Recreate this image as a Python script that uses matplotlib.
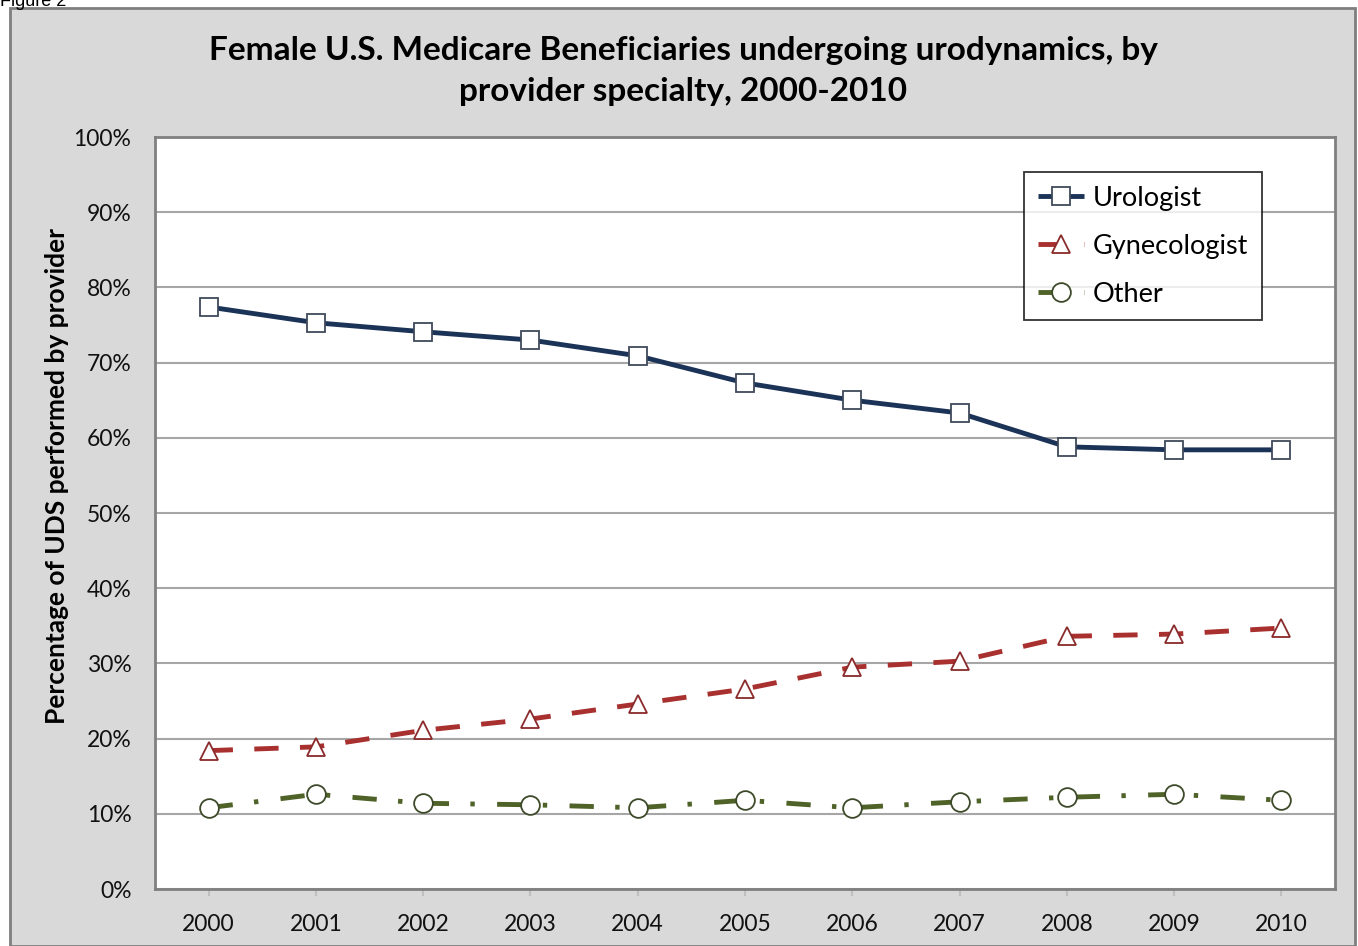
import matplotlib
matplotlib.use("Agg")
import matplotlib.pyplot as plt
from matplotlib.patches import Rectangle
from matplotlib.ticker import FuncFormatter

plt.rcParams['font.family'] = ['Lato', 'DejaVu Sans']

years = [2000, 2001, 2002, 2003, 2004, 2005, 2006, 2007, 2008, 2009, 2010]
urologist = [77.4, 75.3, 74.1, 73.0, 70.9, 67.3, 65.0, 63.3, 58.8, 58.4, 58.4]
gynecologist = [18.4, 18.9, 21.1, 22.6, 24.6, 26.6, 29.5, 30.3, 33.6, 33.9, 34.7]
other = [10.8, 12.6, 11.4, 11.2, 10.8, 11.8, 10.8, 11.6, 12.2, 12.6, 11.8]
yticks = [0, 10, 20, 30, 40, 50, 60, 70, 80, 90, 100]

fig = plt.figure(figsize=(13.58, 9.46), dpi=100)
fig.patch.set_facecolor('white')

# outer chart frame
fig.patches.append(Rectangle((10/1358, 0), 1345/1358, 1 - 8/946, transform=fig.transFigure,
                             facecolor='#d9d9d9', edgecolor='#7f7f7f', linewidth=2.0, zorder=-10))
fig.text(0.0, 1 - 1/946, 'Figure 2', fontsize=13, ha='left', va='center',
         family=['Liberation Sans', 'DejaVu Sans'])

ax = fig.add_axes([155/1358, 1 - 889/946, 1180/1358, 752/946])
ax.set_facecolor('white')
x = list(range(len(years)))

ax.plot(x, urologist, color='#1c3358', lw=3.5, marker='s', markersize=13.5,
        markerfacecolor='white', markeredgecolor='#404a5a', markeredgewidth=1.3,
        label='Urologist', zorder=5, solid_capstyle='butt')
ax.plot(x, gynecologist, color='#a8302e', lw=3.5, linestyle=(0, (5.0, 4.4)),
        marker='^', markersize=13, markerfacecolor='white', markeredgecolor='#8a2a2a',
        markeredgewidth=1.3, label='Gynecologist', zorder=5)
ax.plot(x, other, color='#4f6228', lw=3.5, linestyle=(0, (5.0, 4.4, 0.9, 4.6)),
        marker='o', markersize=13.5, markerfacecolor='white', markeredgecolor='#3d4a2a',
        markeredgewidth=1.3, label='Other', zorder=5)

ax.set_xlim(-0.5, len(years) - 0.5)
ax.set_ylim(0, 100)
ax.set_yticks(yticks)
ax.yaxis.set_major_formatter(FuncFormatter(lambda v, p: f'{int(v)}%'))
ax.set_xticks(x)
ax.set_xticklabels([str(y) for y in years])
ax.grid(axis='y', color='#a6a6a6', linewidth=1.5)
ax.set_axisbelow(True)
ax.tick_params(axis='y', length=0, labelsize=16.5, pad=17, labelcolor='#111111')
ax.tick_params(axis='x', length=5, color='#bfbfbf', width=1.5, labelsize=16.5, pad=13,
               labelcolor='#111111')
for s in ax.spines.values():
    s.set_color('#808080')
    s.set_linewidth(2)

fig.text(57/1358, 1 - 476/946, 'Percentage of UDS performed by provider', rotation=90,
         ha='center', va='center', fontsize=19, fontweight='bold')

fig.text(683/1358, 1 - 71/946,
         'Female U.S. Medicare Beneficiaries undergoing urodynamics, by\nprovider specialty, 2000-2010',
         ha='center', va='center', fontsize=24, fontweight='bold', linespacing=1.5)

leg = ax.legend(loc='upper left', bbox_to_anchor=((1024 - 155) / 1180, 1 - (172 - 137) / 752),
                fontsize=19.5, frameon=True, fancybox=False, edgecolor='#000000',
                handlelength=1.7, handletextpad=0.35, borderpad=0.5, labelspacing=0.85,
                borderaxespad=0)
leg.get_frame().set_linewidth(1.3)

fig.savefig('out.png', dpi=100)
